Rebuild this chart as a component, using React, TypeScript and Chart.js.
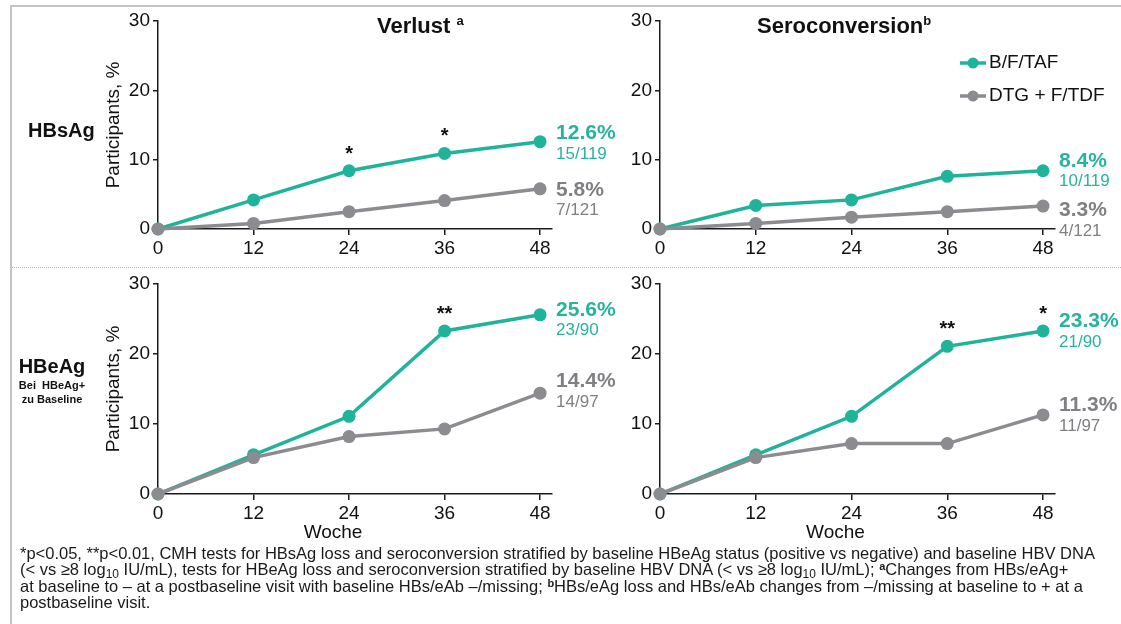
import React, { useEffect, useRef } from "react";
import { Chart, registerables } from "chart.js";

Chart.register(...registerables);

// ---------- data ----------
const weeks = [0, 12, 24, 36, 48];
const yTicks = [0, 10, 20, 30];
const seriesNames = ["B/F/TAF", "DTG + F/TDF"];

const hbsLossBFTAF = [0, 4.2, 8.4, 10.9, 12.6];
const hbsLossDTG = [0, 0.8, 2.5, 4.1, 5.8];
const hbsLossSig = ["", "", "*", "*", ""];
const hbsLossN = ["15/119", "7/121"];

const hbsSeroBFTAF = [0, 3.4, 4.2, 7.6, 8.4];
const hbsSeroDTG = [0, 0.8, 1.7, 2.5, 3.3];
const hbsSeroSig = ["", "", "", "", ""];
const hbsSeroN = ["10/119", "4/121"];

const hbeLossBFTAF = [0, 5.6, 11.1, 23.3, 25.6];
const hbeLossDTG = [0, 5.2, 8.2, 9.3, 14.4];
const hbeLossSig = ["", "", "", "**", ""];
const hbeLossN = ["23/90", "14/97"];

const hbeSeroBFTAF = [0, 5.6, 11.1, 21.1, 23.3];
const hbeSeroDTG = [0, 5.2, 7.2, 7.2, 11.3];
const hbeSeroSig = ["", "", "", "**", "*"];
const hbeSeroN = ["21/90", "11/97"];

// ---------- styles ----------
const TEAL = "#1fb39b";
const GRAY = "#8b8b90";
const TEAL_TEXT = "#27b39e";
const GRAY_TEXT = "#7f7f84";
const AXIS = "#1a1a1a";
const TEXT = "#111111";
const SANS = '"Liberation Sans", Arial, Helvetica, sans-serif';
const NARROW = '"Liberation Sans Narrow", "Arial Narrow", "Liberation Sans", Arial, sans-serif';

type PanelProps = {
  left: number;
  top: number;
  width: number;
  height: number;
  padTop: number;
  padRight: number;
  yWidth: number;
  xHeight: number;
  teal: number[];
  gray: number[];
  sig: string[];
  fractions: string[];
  labelDy: number[];
  yTitle: boolean;
  xTitle: boolean;
  legend: boolean;
};

function Panel(p: PanelProps) {
  const ref = useRef<HTMLCanvasElement>(null);
  useEffect(() => {
    const canvas = ref.current;
    if (!canvas) return;

    const overlay = {
      id: "overlay",
      afterDatasetsDraw(chart: any) {
        const ctx = chart.ctx as CanvasRenderingContext2D;
        const area = chart.chartArea;
        const xs = chart.scales.x;
        const tealMeta = chart.getDatasetMeta(0);
        const grayMeta = chart.getDatasetMeta(1);
        ctx.save();

        // significance markers
        ctx.fillStyle = TEXT;
        ctx.font = `bold 20px ${SANS}`;
        ctx.textAlign = "center";
        ctx.textBaseline = "alphabetic";
        p.sig.forEach((s, i) => {
          if (!s) return;
          const pt = tealMeta.data[i];
          ctx.fillText(s, pt.x, pt.y - 11);
        });

        // end labels
        [tealMeta, grayMeta].forEach((meta: any, k: number) => {
          const pt = meta.data[meta.data.length - 1];
          const vals = k === 0 ? p.teal : p.gray;
          ctx.fillStyle = k === 0 ? TEAL_TEXT : GRAY_TEXT;
          ctx.textAlign = "left";
          ctx.textBaseline = "middle";
          ctx.font = `bold 21px ${SANS}`;
          ctx.fillText(`${vals[vals.length - 1].toFixed(1)}%`, pt.x + 16, pt.y + p.labelDy[k]);
          ctx.font = `17px ${SANS}`;
          ctx.fillText(p.fractions[k], pt.x + 16, pt.y + p.labelDy[k] + 21);
        });

        // x title
        if (p.xTitle) {
          const cx = (xs.getPixelForValue(weeks[0]) + xs.getPixelForValue(weeks[weeks.length - 1])) / 2 - 16;
          ctx.fillStyle = TEXT;
          ctx.font = `19px ${NARROW}`;
          ctx.textAlign = "center";
          ctx.textBaseline = "middle";
          ctx.fillText("Woche", cx, area.bottom + 39);
        }

        // legend
        if (p.legend) {
          const lx = area.right - 95;
          const ly = area.top + 42;
          [TEAL, GRAY].forEach((c, k) => {
            const y = ly + k * 33;
            ctx.strokeStyle = c;
            ctx.fillStyle = c;
            ctx.lineWidth = 3.5;
            ctx.beginPath();
            ctx.moveTo(lx, y);
            ctx.lineTo(lx + 26, y);
            ctx.stroke();
            ctx.beginPath();
            ctx.arc(lx + 13, y, 5.5, 0, Math.PI * 2);
            ctx.fill();
            ctx.fillStyle = TEXT;
            ctx.font = `19px ${SANS}`;
            ctx.textAlign = "left";
            ctx.textBaseline = "middle";
            ctx.fillText(seriesNames[k], lx + 29, y);
          });
        }
        ctx.restore();
      },
    };

    const mk = (vals: number[], color: string, k: number) => ({
      label: seriesNames[k],
      data: weeks.map((w, i) => ({ x: w, y: vals[i] })),
      borderColor: color,
      backgroundColor: color,
      pointBackgroundColor: color,
      pointBorderColor: color,
      borderWidth: 3.5,
      pointRadius: 6.5,
      pointBorderWidth: 0,
      tension: 0,
      clip: false as any,
      order: k === 0 ? 1 : 0,
    });

    const tickFont = { family: NARROW, size: 19 };

    const chart = new Chart(canvas, {
      type: "line",
      data: {
        datasets: [mk(p.teal, TEAL, 0), mk(p.gray, GRAY, 1)] as any,
      },
      options: {
        responsive: false,
        animation: false,
        events: [],
        layout: { padding: { left: 0, right: p.padRight, top: p.padTop, bottom: 0 } },
        plugins: {
          legend: { display: false },
          tooltip: { enabled: false },
          title: { display: false },
        },
        scales: {
          x: {
            type: "linear",
            min: 0,
            max: 49.5,
            afterBuildTicks: (s: any) => {
              s.ticks = weeks.map((v) => ({ value: v }));
            },
            afterFit: (s: any) => {
              s.height = p.xHeight;
            },
            grid: { drawOnChartArea: false, drawTicks: true, tickLength: 6, color: AXIS, lineWidth: 1.5 },
            border: { display: true, color: AXIS, width: 1.5 },
            ticks: { font: tickFont, color: TEXT, padding: 2, maxRotation: 0, autoSkip: false },
          },
          y: {
            type: "linear",
            min: 0,
            max: 30,
            afterBuildTicks: (s: any) => {
              s.ticks = yTicks.map((v) => ({ value: v }));
            },
            afterFit: (s: any) => {
              s.width = p.yWidth;
            },
            grid: { drawOnChartArea: false, drawTicks: true, tickLength: 5, color: AXIS, lineWidth: 1.5 },
            border: { display: true, color: AXIS, width: 1.5 },
            ticks: { font: tickFont, color: TEXT, padding: 3 },
            title: {
              display: p.yTitle,
              text: "Participants, %",
              color: TEXT,
              font: { family: SANS, size: 19 },
              padding: { top: 102, bottom: 0 },
            },
          },
        },
      } as any,
      plugins: [overlay],
    });
    return () => chart.destroy();
  }, []);

  return (
    <canvas
      ref={ref}
      width={p.width}
      height={p.height}
      style={{ position: "absolute", left: p.left, top: p.top, width: p.width, height: p.height }}
    />
  );
}

const sub: React.CSSProperties = { fontSize: 12, lineHeight: 0, verticalAlign: -3 };
const sup: React.CSSProperties = { fontSize: 11, lineHeight: 0, verticalAlign: 5, fontWeight: "bold" };

export default function App() {
  return (
    <div
      style={{
        position: "absolute",
        left: 0,
        top: 0,
        width: 1121,
        height: 624,
        overflow: "hidden",
        background: "#ffffff",
        fontFamily: SANS,
        color: TEXT,
      }}
    >
      {/* frame */}
      <div
        style={{
          position: "absolute",
          left: 10,
          top: 5,
          right: 0,
          bottom: 0,
          borderTop: "2px solid #c4c4c4",
          borderLeft: "2px solid #c4c4c4",
        }}
      />
      <div style={{ position: "absolute", left: 12, right: 0, top: 267, borderTop: "1px dotted #b8b8b8" }} />

      <Panel left={0} top={0} width={640} height={265} padTop={21} padRight={88} yWidth={158} xHeight={36}
        teal={hbsLossBFTAF} gray={hbsLossDTG} sig={hbsLossSig} fractions={hbsLossN} labelDy={[-8, 1]}
        yTitle={true} xTitle={false} legend={false} />
      <Panel left={560} top={0} width={561} height={265} padTop={21} padRight={66} yWidth={100} xHeight={36}
        teal={hbsSeroBFTAF} gray={hbsSeroDTG} sig={hbsSeroSig} fractions={hbsSeroN} labelDy={[-10, 4]}
        yTitle={false} xTitle={false} legend={true} />
      <Panel left={0} top={265} width={640} height={280} padTop={19} padRight={88} yWidth={158} xHeight={51}
        teal={hbeLossBFTAF} gray={hbeLossDTG} sig={hbeLossSig} fractions={hbeLossN} labelDy={[-5, -12]}
        yTitle={true} xTitle={true} legend={false} />
      <Panel left={560} top={265} width={561} height={280} padTop={19} padRight={66} yWidth={100} xHeight={51}
        teal={hbeSeroBFTAF} gray={hbeSeroDTG} sig={hbeSeroSig} fractions={hbeSeroN} labelDy={[-10, -10]}
        yTitle={false} xTitle={true} legend={false} />

      {/* titles */}
      <div style={{ position: "absolute", left: 377, top: 13, fontSize: 22, fontWeight: "bold", whiteSpace: "nowrap" }}>
        Verlust <span style={{ fontSize: 13, verticalAlign: 8, lineHeight: 0 }}>a</span>
      </div>
      <div style={{ position: "absolute", left: 757, top: 13, fontSize: 22, fontWeight: "bold", whiteSpace: "nowrap" }}>
        Seroconversion<span style={{ fontSize: 13, verticalAlign: 8, lineHeight: 0 }}>b</span>
      </div>

      {/* row labels */}
      <div style={{ position: "absolute", left: 28, top: 119, fontSize: 20, fontWeight: "bold" }}>HBsAg</div>
      <div style={{ position: "absolute", left: 14, top: 354, width: 76, textAlign: "center", fontWeight: "bold" }}>
        <div style={{ fontSize: 20, lineHeight: "24px" }}>HBeAg</div>
        <div style={{ fontSize: 11, lineHeight: "14px", whiteSpace: "pre" }}>{"Bei  HBeAg+"}</div>
        <div style={{ fontSize: 11, lineHeight: "14px" }}>zu Baseline</div>
      </div>

      {/* footnote */}
      <div
        style={{
          position: "absolute",
          left: 20,
          top: 545,
          fontSize: 16.5,
          lineHeight: "16.3px",
          whiteSpace: "nowrap",
          color: "#1a1a1a",
        }}
      >
        *p&lt;0.05, **p&lt;0.01, CMH tests for HBsAg loss and seroconversion stratified by baseline HBeAg status (positive vs negative) and baseline HBV DNA
        <br />
        (&lt; vs ≥8 log<span style={sub}>10</span> IU/mL), tests for HBeAg loss and seroconversion stratified by baseline HBV DNA (&lt; vs ≥8 log<span style={sub}>10</span> IU/mL); <span style={sup}>a</span>Changes from HBs/eAg+
        <br />
        at baseline to – at a postbaseline visit with baseline HBs/eAb –/missing; <span style={sup}>b</span>HBs/eAg loss and HBs/eAb changes from –/missing at baseline to + at a
        <br />
        postbaseline visit.
      </div>
    </div>
  );
}
